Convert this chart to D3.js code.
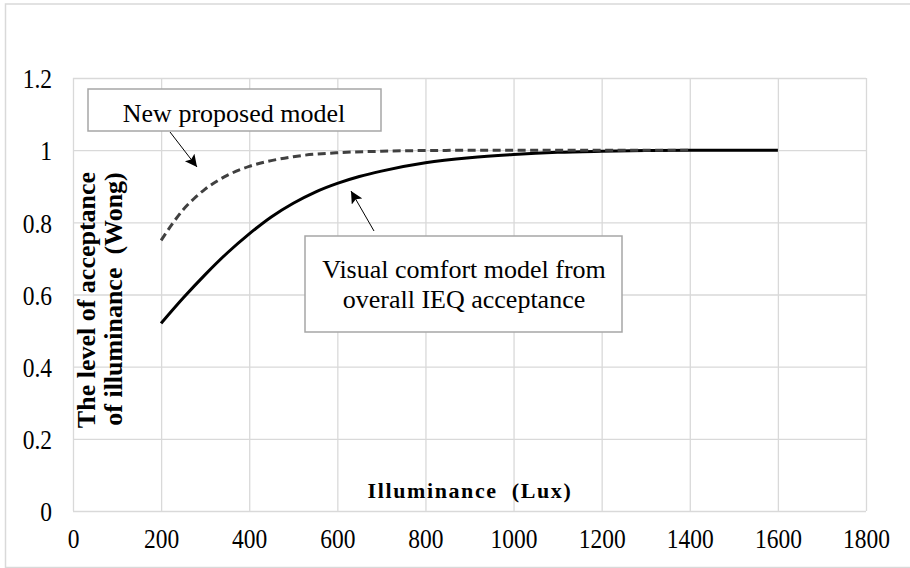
<!DOCTYPE html>
<html>
<head>
<meta charset="utf-8">
<script src="https://cdn.jsdelivr.net/npm/d3@7"></script>
<style>
  body { margin: 0; background: #fff; }
  text { font-family: "Liberation Serif", "Times New Roman", serif; fill: #000; }
  .grid line { stroke: #d9d9d9; stroke-width: 1.3; }
  .grid path { display: none; }
</style>
</head>
<body>
<div id="chart"></div>
<script>
// Illuminance (Lux) and acceptance levels
var luxComfort = [200, 250, 300, 350, 400, 450, 500, 550, 600, 650, 700, 800, 900, 1000, 1100, 1200, 1300, 1400, 1600];
var comfortModel = [0.52, 0.59, 0.655, 0.715, 0.768, 0.815, 0.853, 0.884, 0.908, 0.927, 0.942, 0.965, 0.979, 0.988, 0.994, 0.997, 0.999, 1.0, 1.0];

var luxProposed = [200, 225, 250, 275, 300, 350, 400, 450, 500, 600, 700, 800, 1000, 1400];
var proposedModel = [0.75, 0.795, 0.835, 0.866, 0.892, 0.93, 0.955, 0.971, 0.982, 0.993, 0.997, 0.999, 1.0, 1.0];

var xTicks = [0, 200, 400, 600, 800, 1000, 1200, 1400, 1600, 1800];
var yTicks = [0, 0.2, 0.4, 0.6, 0.8, 1, 1.2];

var margin = {top: 78, right: 44, bottom: 57, left: 73},
    W = 910, H = 568,
    width = W - margin.left - margin.right,
    height = H - margin.top - margin.bottom;

var x = d3.scaleLinear().domain([0, 1800]).range([0, width]),
    y = d3.scaleLinear().domain([0, 1.2]).range([height, 0]);

var svg = d3.select("#chart").append("svg")
    .attr("width", W)
    .attr("height", H);

// outer frame of the chart area
svg.append("rect")
    .attr("x", 5.5).attr("y", 4)
    .attr("width", W + 10).attr("height", H - 4.5)
    .attr("fill", "#fff")
    .attr("stroke", "#d9d9d9")
    .attr("stroke-width", 1.5);

var defs = svg.append("defs");
defs.append("marker")
    .attr("id", "head")
    .attr("viewBox", "0 0 10 10")
    .attr("refX", 10).attr("refY", 5)
    .attr("markerWidth", 14).attr("markerHeight", 12)
    .attr("markerUnits", "userSpaceOnUse")
    .attr("orient", "auto")
  .append("path")
    .attr("d", "M0,0 L10,5 L0,10 L2,5 Z")
    .attr("fill", "#000");

var g = svg.append("g")
    .attr("transform", "translate(" + margin.left + "," + margin.top + ")");

// gridlines
g.append("g")
    .attr("class", "grid")
    .attr("transform", "translate(0," + height + ")")
    .call(d3.axisBottom(x).tickValues(xTicks).tickSize(-height).tickFormat(""));

g.append("g")
    .attr("class", "grid")
    .call(d3.axisLeft(y).tickValues(yTicks).tickSize(-width).tickFormat(""));

// tick labels (slightly tall glyphs, as in the source image)
var stretch = 1.15;
var xAxis = g.append("g")
    .attr("transform", "translate(0," + height + ")")
    .call(d3.axisBottom(x).tickValues(xTicks).tickSize(0).tickFormat(d3.format("d")));
xAxis.select(".domain").remove();
xAxis.selectAll("text")
    .attr("y", 37 / stretch).attr("dy", 0)
    .attr("transform", "scale(1," + stretch + ")")
    .style("font-size", "23.5px")
    .style("font-family", "Liberation Serif");

var yAxis = g.append("g")
    .call(d3.axisLeft(y).tickValues(yTicks).tickSize(0).tickFormat(function(d) { return d3.format("")(+d.toFixed(1)); }));
yAxis.select(".domain").remove();
yAxis.selectAll("text")
    .attr("x", -21).attr("dy", "0.36em")
    .attr("transform", "scale(1," + stretch + ")")
    .style("font-size", "23.5px")
    .style("font-family", "Liberation Serif");

// curves
var line = d3.line()
    .x(function(d) { return x(d[0]); })
    .y(function(d) { return y(d[1]); })
    .curve(d3.curveMonotoneX);

g.append("path")
    .datum(d3.zip(luxComfort, comfortModel))
    .attr("fill", "none")
    .attr("stroke", "#000")
    .attr("stroke-width", 3)
    .attr("d", line);

g.append("path")
    .datum(d3.zip(luxProposed, proposedModel))
    .attr("fill", "none")
    .attr("stroke", "#404040")
    .attr("stroke-width", 3)
    .attr("stroke-dasharray", "8,4.5")
    .attr("d", line);

// axis titles
svg.append("text")
    .attr("x", 470).attr("y", 498)
    .attr("text-anchor", "middle")
    .style("font-size", "22px")
    .style("font-weight", "bold")
    .style("letter-spacing", "1.6px")
    .text("Illuminance\u00a0 (Lux)");

var yTitle = svg.append("text")
    .attr("transform", "rotate(-90)")
    .attr("text-anchor", "middle")
    .style("font-size", "26px")
    .style("font-weight", "bold");
yTitle.append("tspan").attr("x", -300).attr("y", 95).text("The level of acceptance");
yTitle.append("tspan").attr("x", -299).attr("y", 122).text("of illuminance\u00a0 (Wong)");

// annotations
svg.append("rect")
    .attr("x", 88).attr("y", 89).attr("width", 293).attr("height", 42)
    .attr("fill", "#fff").attr("stroke", "#a6a6a6").attr("stroke-width", 1.5);
svg.append("text")
    .attr("x", 234).attr("y", 122)
    .attr("text-anchor", "middle")
    .style("font-size", "26px")
    .text("New proposed model");
svg.append("line")
    .attr("x1", 170).attr("y1", 132).attr("x2", 197).attr("y2", 167)
    .attr("stroke", "#000").attr("stroke-width", 1)
    .attr("marker-end", "url(#head)");

svg.append("rect")
    .attr("x", 305).attr("y", 236).attr("width", 317).attr("height", 96)
    .attr("fill", "#fff").attr("stroke", "#a6a6a6").attr("stroke-width", 1.5);
var note = svg.append("text")
    .attr("text-anchor", "middle")
    .style("font-size", "26px");
note.append("tspan").attr("x", 464).attr("y", 278).text("Visual comfort model from");
note.append("tspan").attr("x", 464).attr("y", 308).text("overall IEQ acceptance");
svg.append("line")
    .attr("x1", 374).attr("y1", 231).attr("x2", 351).attr("y2", 191)
    .attr("stroke", "#000").attr("stroke-width", 1)
    .attr("marker-end", "url(#head)");
</script>
</body>
</html>
